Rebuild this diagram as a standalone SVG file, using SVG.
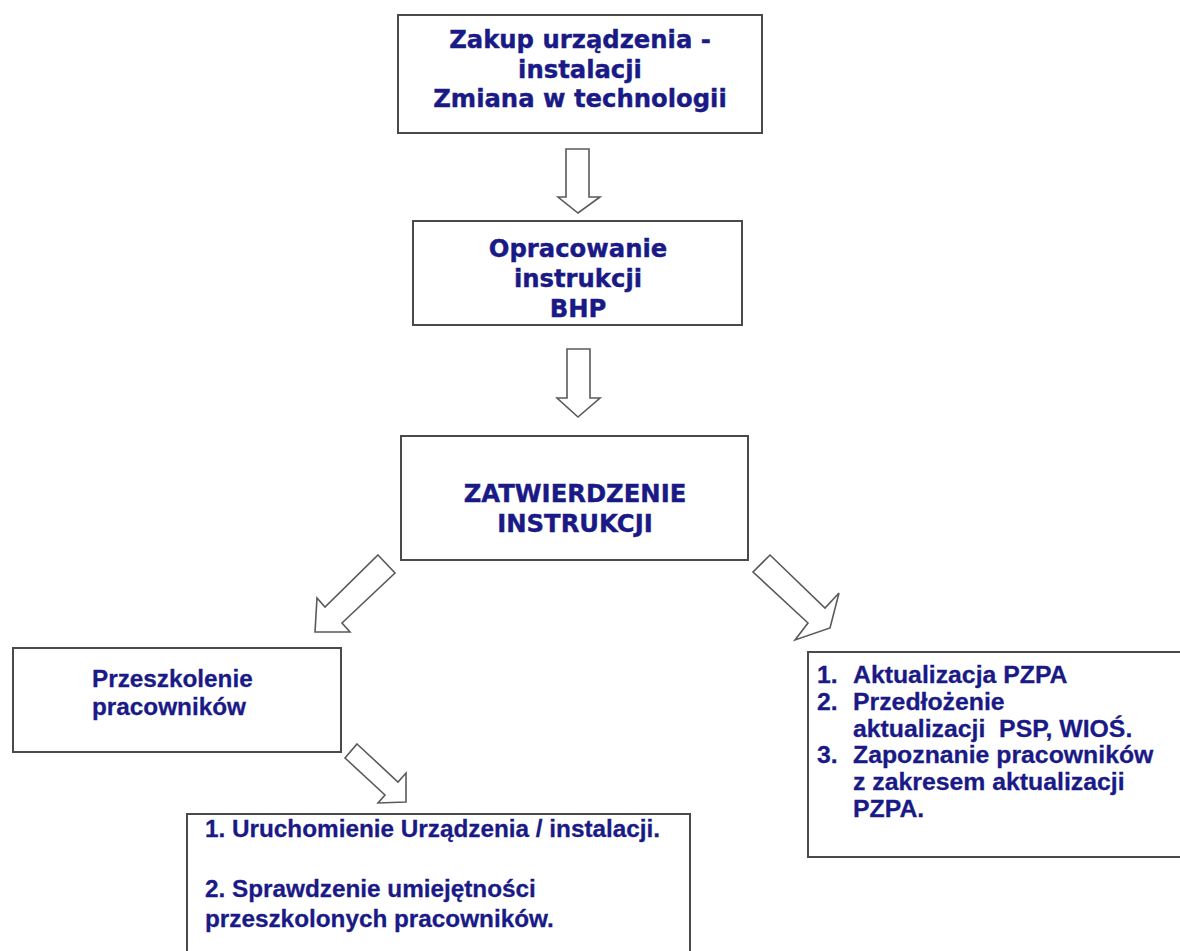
<svg xmlns="http://www.w3.org/2000/svg" width="1180" height="951" viewBox="0 0 1180 951">
<style>
.box{fill:#fff;stroke:#4a4a4a;stroke-width:2}
.arr{fill:#fff;stroke:#5a5a5a;stroke-width:1.6;stroke-linejoin:miter}
.tv{font-family:"DejaVu Sans",Verdana,sans-serif;font-weight:bold;font-size:24.3px;fill:#1a1a86;stroke:#1a1a86;stroke-width:0.4;text-anchor:middle}
.ta{font-family:"Liberation Sans",Arial,sans-serif;font-weight:bold;font-size:24.3px;fill:#1a1a86;stroke:#1a1a86;stroke-width:0.3}
.tr{font-size:24.8px}
</style>
<rect width="1180" height="951" fill="#fff"/>
<g id="connectors">
<polygon class="arr" points="566,149 589,149 589,197 600,197 578,213 558,197 566,197"/>
<polygon class="arr" points="567,349 590,349 590,398 600,398 578,417 557,398 567,398"/>
<polygon class="arr" points="378,555 395,573 342,623 350,632 315,632 317,598 325,607"/>
<polygon class="arr" points="770,555 825,608 839,593 830,628 795,640 808,623 753,572"/>
<polygon class="arr" points="357,744 398,782 406,773 406,802 378,803 385,795 345,758"/>
</g>
<g id="n1">
<rect class="box" x="398" y="15" width="364" height="118"/>
<text class="tv" x="580" y="48">Zakup urządzenia -</text>
<text class="tv" x="580" y="78">instalacji</text>
<text class="tv" x="580" y="107">Zmiana w technologii</text>
</g>
<g id="n2">
<rect class="box" x="413" y="221" width="329" height="104"/>
<text class="tv" x="578" y="257">Opracowanie</text>
<text class="tv" x="578" y="287">instrukcji</text>
<text class="tv" x="578" y="317">BHP</text>
</g>
<g id="n3">
<rect class="box" x="401" y="436" width="347" height="124"/>
<text class="tv" x="575" y="502">ZATWIERDZENIE</text>
<text class="tv" x="575" y="532">INSTRUKCJI</text>
</g>
<g id="n4">
<rect class="box" x="13" y="648" width="328" height="104"/>
<text class="ta" x="92" y="687">Przeszkolenie</text>
<text class="ta" x="92" y="715">pracowników</text>
</g>
<g id="n5">
<rect class="box" x="808" y="652" width="380" height="205"/>
<text class="ta tr" x="817" y="683">1.</text>
<text class="ta tr" x="853" y="683">Aktualizacja PZPA</text>
<text class="ta tr" x="817" y="710">2.</text>
<text class="ta tr" x="853" y="710">Przedłożenie</text>
<text class="ta tr" x="853" y="737" xml:space="preserve">aktualizacji  PSP, WIOŚ.</text>
<text class="ta tr" x="817" y="763">3.</text>
<text class="ta tr" x="853" y="763">Zapoznanie pracowników</text>
<text class="ta tr" x="853" y="790">z zakresem aktualizacji</text>
<text class="ta tr" x="853" y="817">PZPA.</text>
</g>
<g id="n6">
<rect class="box" x="187" y="814" width="503" height="150"/>
<text class="ta" x="205" y="837">1. Uruchomienie Urządzenia / instalacji.</text>
<text class="ta" x="205" y="897">2. Sprawdzenie umiejętności</text>
<text class="ta" x="205" y="927">przeszkolonych pracowników.</text>
</g>
</svg>
